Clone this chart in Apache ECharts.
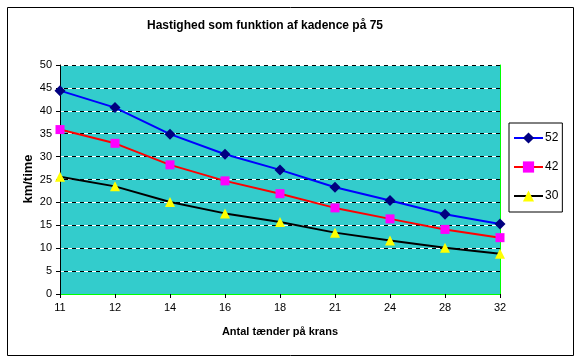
<!DOCTYPE html>
<html>
<head>
<meta charset="utf-8">
<script src="https://cdn.jsdelivr.net/npm/echarts@6/dist/echarts.min.js"></script>
<style>
html,body{margin:0;padding:0;background:#fff;}
#c{width:578px;height:360px;}
</style>
</head>
<body>
<div id="c"></div>
<script>
var categories = ['11','12','14','16','18','21','24','28','32'];
var s52 = [44.4, 40.7, 34.9, 30.5, 27.1, 23.3, 20.4, 17.4, 15.3];
var s42 = [35.9, 32.9, 28.2, 24.7, 21.9, 18.8, 16.4, 14.1, 12.3];
var s30 = [25.6, 23.5, 20.1, 17.6, 15.7, 13.4, 11.7, 10.1, 8.8];
var yTicks = [0, 5, 10, 15, 20, 25, 30, 35, 40, 45, 50];
var yTitle = 'km/time';

var FONT = '"Liberation Sans", Arial, sans-serif';
var chart = echarts.init(document.getElementById('c'), null, {renderer: 'canvas'});
var option = {
  animation: false,
  backgroundColor: '#ffffff',
  textStyle: {fontFamily: FONT},
  title: {
    text: 'Hastighed som funktion af kadence på 75',
    left: 260, top: 15, textAlign: 'center',
    textStyle: {fontFamily: FONT, fontSize: 12, fontWeight: 'bold', color: '#000'}
  },
  graphic: [{
    type: 'rect', left: 5, top: 5, z: 100,
    shape: {width: 566, height: 348},
    style: {fill: 'none', stroke: '#000', lineWidth: 1}
  }, {
    type: 'text', x: 28, y: 179, rotation: Math.PI / 2,
    style: {text: yTitle, fill: '#000', font: 'bold 13px ' + FONT, align: 'center', verticalAlign: 'middle'}
  }],
  legend: {
    orient: 'vertical', left: 509, top: 123,
    padding: [9, 4, 10, 4],
    itemWidth: 29, itemHeight: 14, itemGap: 17,
    borderColor: '#000', borderWidth: 1,
    textStyle: {fontFamily: FONT, fontSize: 12, color: '#000', padding: [0, 0, 0, -3]},
    data: ['52', '42', '30']
  },
  grid: {
    left: 60, right: 78, top: 65, bottom: 66,
    show: true, backgroundColor: '#33CCCC', borderWidth: 0
  },
  xAxis: [{
    type: 'category', data: categories, boundaryGap: false,
    name: 'Antal tænder på krans', nameLocation: 'middle', nameGap: 32,
    nameTextStyle: {fontFamily: FONT, fontSize: 11, fontWeight: 'bold', color: '#000'},
    axisLine: {lineStyle: {color: '#000', width: 1}},
    axisTick: {show: true, length: 4, lineStyle: {color: '#000'}},
    axisLabel: {fontFamily: FONT, fontSize: 11, color: '#000', margin: 8}
  }, {
    type: 'category', data: categories, boundaryGap: false, position: 'top',
    axisLine: {lineStyle: {color: '#00FF00', width: 1}},
    axisTick: {show: false}, axisLabel: {show: false}, splitLine: {show: false}
  }],
  yAxis: [{
    type: 'value', min: yTicks[0], max: yTicks[yTicks.length - 1], interval: 5,
    axisLine: {show: true, lineStyle: {color: '#000', width: 1}},
    axisTick: {show: true, length: 4, lineStyle: {color: '#000'}},
    axisLabel: {fontFamily: FONT, fontSize: 11, color: '#000', margin: 8},
    splitLine: {show: true, lineStyle: {color: '#000', width: 1, type: 'solid'}}
  }, {
    type: 'value', min: yTicks[0], max: yTicks[yTicks.length - 1], interval: 5, position: 'right',
    axisLine: {show: true, lineStyle: {color: '#00FF00', width: 1}},
    axisTick: {show: false}, axisLabel: {show: false},
    splitLine: {show: true, lineStyle: {color: '#ffffff', width: 1, type: [4, 4]}}
  }],
  series: [{
    name: '52', type: 'line', data: s52,
    symbol: 'diamond', symbolSize: 11,
    itemStyle: {color: '#000080'},
    lineStyle: {color: '#0000FF', width: 2},
    z: 5
  }, {
    name: '42', type: 'line', data: s42,
    symbol: 'rect', symbolSize: 9,
    itemStyle: {color: '#FF00FF'},
    lineStyle: {color: '#FF0000', width: 2},
    z: 4
  }, {
    name: '30', type: 'line', data: s30,
    symbol: 'triangle', symbolSize: 10,
    itemStyle: {color: '#FFFF00'},
    lineStyle: {color: '#000000', width: 2},
    z: 3
  }]
};
chart.setOption(option);
</script>
</body>
</html>
